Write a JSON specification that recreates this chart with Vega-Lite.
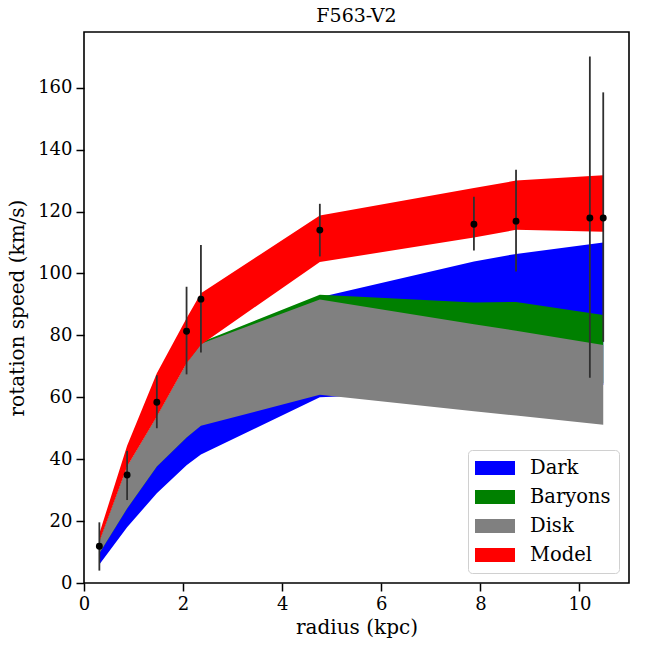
{
  "$schema": "https://vega.github.io/schema/vega-lite/v6.json",
  "autosize": "none",
  "padding": {"left": 84, "top": 32, "right": 19, "bottom": 65},
  "width": 545,
  "height": 551,
  "background": "white",
  "title": {"text": "F563-V2", "font": "DejaVu Serif", "fontSize": 19, "fontWeight": "normal", "color": "black", "offset": 6},
  "datasets": {
    "bands": [
      {"component": "Dark", "radius": 0.31, "lo": 6.0, "hi": 11.0},
      {"component": "Dark", "radius": 0.87, "lo": 18.0, "hi": 28.0},
      {"component": "Dark", "radius": 1.47, "lo": 29.0, "hi": 44.0},
      {"component": "Dark", "radius": 2.07, "lo": 38.0, "hi": 56.0},
      {"component": "Dark", "radius": 2.36, "lo": 41.5, "hi": 62.0},
      {"component": "Dark", "radius": 4.76, "lo": 60.0, "hi": 92.3},
      {"component": "Dark", "radius": 7.87, "lo": 62.0, "hi": 103.9},
      {"component": "Dark", "radius": 8.72, "lo": 63.0, "hi": 106.3},
      {"component": "Dark", "radius": 10.48, "lo": 64.0, "hi": 110.0},
      {"component": "Baryons", "radius": 0.31, "lo": 9.6, "hi": 13.4},
      {"component": "Baryons", "radius": 0.87, "lo": 24.1, "hi": 37.5},
      {"component": "Baryons", "radius": 1.47, "lo": 37.6, "hi": 53.7},
      {"component": "Baryons", "radius": 2.07, "lo": 47.0, "hi": 70.8},
      {"component": "Baryons", "radius": 2.36, "lo": 51.0, "hi": 77.8},
      {"component": "Baryons", "radius": 4.76, "lo": 61.0, "hi": 93.1},
      {"component": "Baryons", "radius": 7.87, "lo": 64.0, "hi": 90.6},
      {"component": "Baryons", "radius": 8.72, "lo": 65.0, "hi": 90.8},
      {"component": "Baryons", "radius": 10.48, "lo": 64.5, "hi": 86.6},
      {"component": "Disk", "radius": 0.31, "lo": 9.6, "hi": 13.4},
      {"component": "Disk", "radius": 0.87, "lo": 24.1, "hi": 37.6},
      {"component": "Disk", "radius": 1.47, "lo": 37.6, "hi": 53.8},
      {"component": "Disk", "radius": 2.07, "lo": 47.0, "hi": 71.0},
      {"component": "Disk", "radius": 2.36, "lo": 50.8, "hi": 77.3},
      {"component": "Disk", "radius": 4.76, "lo": 60.8, "hi": 91.6},
      {"component": "Disk", "radius": 7.87, "lo": 55.5, "hi": 83.6},
      {"component": "Disk", "radius": 8.72, "lo": 54.1, "hi": 81.5},
      {"component": "Disk", "radius": 10.48, "lo": 51.1, "hi": 76.9},
      {"component": "Model", "radius": 0.31, "lo": 13.4, "hi": 16.0},
      {"component": "Model", "radius": 0.87, "lo": 37.6, "hi": 44.3},
      {"component": "Model", "radius": 1.47, "lo": 53.8, "hi": 67.8},
      {"component": "Model", "radius": 2.07, "lo": 71.0, "hi": 85.5},
      {"component": "Model", "radius": 2.36, "lo": 77.0, "hi": 93.6},
      {"component": "Model", "radius": 4.76, "lo": 103.7, "hi": 118.7},
      {"component": "Model", "radius": 7.87, "lo": 111.6, "hi": 127.6},
      {"component": "Model", "radius": 8.72, "lo": 114.1, "hi": 130.0},
      {"component": "Model", "radius": 10.48, "lo": 113.5, "hi": 131.7}
    ],
    "obs": [
      {"radius": 0.31, "v": 11.9, "lo": 4.0, "hi": 19.6},
      {"radius": 0.87, "v": 34.9, "lo": 26.8, "hi": 42.7},
      {"radius": 1.47, "v": 58.4, "lo": 50.0, "hi": 67.1},
      {"radius": 2.07, "v": 81.3, "lo": 67.4, "hi": 95.7},
      {"radius": 2.36, "v": 91.7, "lo": 74.5, "hi": 109.2},
      {"radius": 4.76, "v": 114.0, "lo": 105.5, "hi": 122.5},
      {"radius": 7.87, "v": 115.9, "lo": 107.4, "hi": 124.8},
      {"radius": 8.72, "v": 116.9, "lo": 100.6, "hi": 133.5},
      {"radius": 10.21, "v": 117.9, "lo": 66.3, "hi": 170.1},
      {"radius": 10.48, "v": 117.9, "lo": 77.9, "hi": 158.5}
    ]
  },
  "encoding": {
    "x": {"field": "radius", "type": "quantitative", "scale": {"domain": [0, 11], "nice": false, "zero": false},
          "axis": {"title": "radius (kpc)", "values": [0, 2, 4, 6, 8, 10], "labelFlush": false, "titlePadding": 4}},
    "y": {"field": "lo", "type": "quantitative", "scale": {"domain": [0, 178], "nice": false},
          "axis": {"title": "rotation speed (km/s)", "values": [0, 20, 40, 60, 80, 100, 120, 140, 160], "labelFlush": false, "titlePadding": 10}}
  },
  "layer": [
    {
      "data": {"name": "bands"},
      "transform": [{"filter": "datum.component === 'Dark'"}],
      "mark": {"type": "area", "opacity": 1},
      "encoding": {
        "y2": {"field": "hi"},
        "color": {"field": "component", "type": "nominal", "title": null,
                  "scale": {"domain": ["Dark", "Baryons", "Disk", "Model"], "range": ["#0000ff", "#008000", "#808080", "#ff0000"]},
                  "legend": {"orient": "bottom-right", "offset": 10}}
      }
    },
    {
      "data": {"name": "bands"},
      "transform": [{"filter": "datum.component === 'Baryons'"}],
      "mark": {"type": "area", "opacity": 1},
      "encoding": {"y2": {"field": "hi"}, "color": {"field": "component", "type": "nominal"}}
    },
    {
      "data": {"name": "bands"},
      "transform": [{"filter": "datum.component === 'Disk'"}],
      "mark": {"type": "area", "opacity": 1},
      "encoding": {"y2": {"field": "hi"}, "color": {"field": "component", "type": "nominal"}}
    },
    {
      "data": {"name": "bands"},
      "transform": [{"filter": "datum.component === 'Model'"}],
      "mark": {"type": "area", "opacity": 1},
      "encoding": {"y2": {"field": "hi"}, "color": {"field": "component", "type": "nominal"}}
    },
    {
      "data": {"name": "obs"},
      "mark": {"type": "rule", "color": "#303030", "strokeWidth": 1.8},
      "encoding": {"y2": {"field": "hi"}}
    },
    {
      "data": {"name": "obs"},
      "mark": {"type": "circle", "color": "black", "opacity": 1, "size": 48},
      "encoding": {"y": {"field": "v", "type": "quantitative"}}
    }
  ],
  "config": {
    "view": {"stroke": "black", "strokeWidth": 1.6},
    "font": "DejaVu Serif",
    "axis": {"domain": false, "grid": false, "tickColor": "black", "tickSize": 8, "tickWidth": 1.5,
             "labelFont": "DejaVu Serif", "labelFontSize": 18, "labelColor": "black", "labelPadding": 4,
             "titleFont": "DejaVu Serif", "titleFontSize": 20, "titleFontWeight": "normal", "titleColor": "black"},
    "legend": {"labelFont": "DejaVu Serif", "labelFontSize": 19.5, "labelColor": "black",
               "symbolType": "M-2,-0.7H2V0.7H-2Z", "symbolSize": 400, "symbolStrokeWidth": 0, "symbolOpacity": 1,
               "symbolOffset": 9,
               "fillColor": "white", "strokeColor": "#d0d0d0", "cornerRadius": 4, "padding": 8,
               "rowPadding": 9, "labelOffset": 25}
  }
}
